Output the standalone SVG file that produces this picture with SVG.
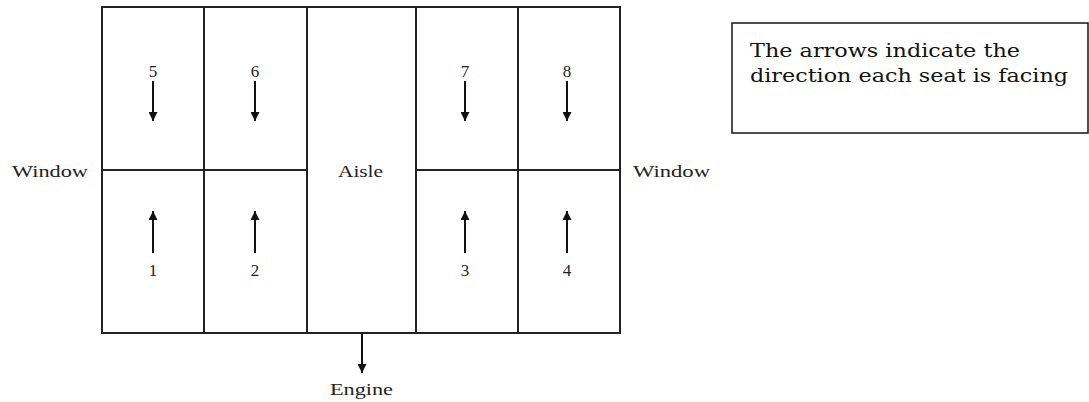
<svg xmlns="http://www.w3.org/2000/svg" width="1089" height="402" viewBox="0 0 1089 402">
<defs>
<marker id="ah" viewBox="0 0 10 10" refX="10" refY="5" markerWidth="9" markerHeight="9" markerUnits="userSpaceOnUse" orient="auto">
<path d="M0,0 L10,5 L0,10 z" fill="#111"/>
</marker>
</defs>
<style>
.ln{stroke:#222;stroke-width:2;fill:none}
.ar{stroke:#111;stroke-width:2;fill:none;marker-end:url(#ah)}
.t{font-family:"Liberation Serif","Times New Roman",serif;fill:#222;font-size:17px}
.lg{font-family:"DejaVu Serif","Liberation Serif",serif;fill:#111;font-size:19px}
</style>
<rect width="1089" height="402" fill="#fff"/>
<g id="cabin">
<rect class="ln" x="102" y="7" width="518" height="326"/>
<line class="ln" x1="204" y1="7" x2="204" y2="333"/>
<line class="ln" x1="307" y1="7" x2="307" y2="333"/>
<line class="ln" x1="416" y1="7" x2="416" y2="333"/>
<line class="ln" x1="518" y1="7" x2="518" y2="333"/>
<line class="ln" x1="102" y1="170" x2="307" y2="170"/>
<line class="ln" x1="416" y1="170" x2="620" y2="170"/>
</g>
<g id="seat5"><text class="t" x="153" y="77" text-anchor="middle">5</text></g>
<g id="seat6"><text class="t" x="255" y="77" text-anchor="middle">6</text></g>
<g id="seat7"><text class="t" x="465" y="77" text-anchor="middle">7</text></g>
<g id="seat8"><text class="t" x="567" y="77" text-anchor="middle">8</text></g>
<g id="seat1"><text class="t" x="153" y="276" text-anchor="middle">1</text></g>
<g id="seat2"><text class="t" x="255" y="276" text-anchor="middle">2</text></g>
<g id="seat3"><text class="t" x="465" y="276" text-anchor="middle">3</text></g>
<g id="seat4"><text class="t" x="567" y="276" text-anchor="middle">4</text></g>
<g id="aisle"><text class="t" x="338" y="177" textLength="45" lengthAdjust="spacingAndGlyphs">Aisle</text></g>
<g id="windowL"><text class="t" x="12" y="177" textLength="76" lengthAdjust="spacingAndGlyphs">Window</text></g>
<g id="windowR"><text class="t" x="633" y="177" textLength="77" lengthAdjust="spacingAndGlyphs">Window</text></g>
<g id="engine"><text class="t" x="330" y="395" textLength="63" lengthAdjust="spacingAndGlyphs">Engine</text></g>
<g id="legend">
<rect x="732" y="23" width="356" height="110" fill="none" stroke="#222" stroke-width="1.6"/>
<text class="lg" x="750" y="57" textLength="270" lengthAdjust="spacingAndGlyphs">The arrows indicate the</text>
<text class="lg" x="750" y="82" textLength="318" lengthAdjust="spacingAndGlyphs">direction each seat is facing</text>
</g>
<g id="connectors">
<line class="ar" x1="153" y1="81" x2="153" y2="121"/>
<line class="ar" x1="255" y1="81" x2="255" y2="121"/>
<line class="ar" x1="465" y1="81" x2="465" y2="121"/>
<line class="ar" x1="567" y1="81" x2="567" y2="121"/>
<line class="ar" x1="153" y1="253" x2="153" y2="211"/>
<line class="ar" x1="255" y1="253" x2="255" y2="211"/>
<line class="ar" x1="465" y1="253" x2="465" y2="211"/>
<line class="ar" x1="567" y1="253" x2="567" y2="211"/>
<line class="ar" x1="362" y1="333" x2="362" y2="373"/>
</g>
</svg>
